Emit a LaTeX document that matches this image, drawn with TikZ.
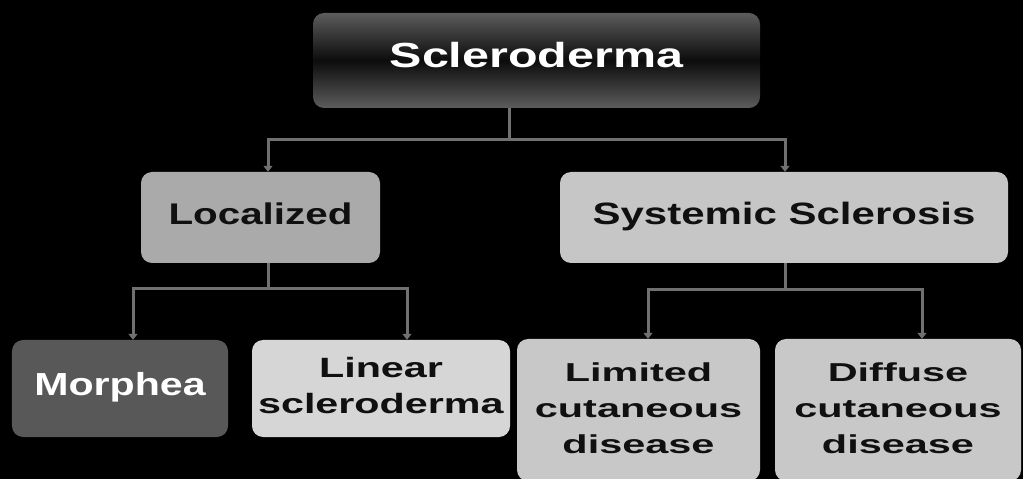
\documentclass[tikz,border=0pt]{standalone}
\usepackage{fontspec}
\setmainfont{Liberation Sans}
\usetikzlibrary{arrows.meta}
\definecolor{topedge}{RGB}{92,92,92}
\definecolor{topmid}{RGB}{12,12,12}
\definecolor{locfill}{RGB}{170,170,170}
\definecolor{sysfill}{RGB}{198,198,198}
\definecolor{morfill}{RGB}{88,88,88}
\definecolor{linfill}{RGB}{214,214,214}
\definecolor{limfill}{RGB}{200,200,200}
\definecolor{conn}{RGB}{112,112,112}
\definecolor{darktext}{RGB}{16,16,16}
\newcommand\strx[3]{\scalebox{#1}[1]{\fontsize{#2}{36}\selectfont\begin{tabular}{@{}c@{}}#3\end{tabular}}}
\tikzset{
  box/.style={rounded corners=11bp, inner sep=0pt, draw=none},
  conline/.style={draw=conn, line width=3bp},
  tip/.style={-{Triangle[length=6bp,width=9bp]}},
}
\begin{document}
\begin{tikzpicture}[x=1bp,y=-1bp]
\fill[black] (0,0) rectangle (1023,479);
\useasboundingbox (0,0) rectangle (1023,479);
\clip (0,0) rectangle (1023,479);

\coordinate (j0) at (509,140);
\coordinate (jl) at (268,289);
\coordinate (js) at (785,290);

\node[box, minimum width=447bp, minimum height=95bp, top color=topedge, bottom color=topedge, middle color=topmid] (top) at (536.5,60.5)
  {\strx{1.39}{35}{\textbf{\color{white}Scleroderma}}};
\node[box, minimum width=239bp, minimum height=91bp, fill=locfill] (loc) at (260.5,217.5)
  {\strx{1.35}{30}{\textbf{\color{darktext}Localized}}};
\node[box, minimum width=448bp, minimum height=91bp, fill=sysfill] (sys) at (784,217.5)
  {\strx{1.36}{31}{\textbf{\color{darktext}Systemic Sclerosis}}};
\node[box, minimum width=216bp, minimum height=97bp, fill=morfill] (mor) at (120,388.5)
  {\strx{1.29}{32}{\textbf{\color{white}Morphea}}};
\node[box, minimum width=258bp, minimum height=97bp, fill=linfill] (lin) at (381,388.5)
  {\strx{1.48}{28}{\color{darktext}\textbf{Linear}\\\color{darktext}\textbf{scleroderma}}};
\node[box, minimum width=243bp, minimum height=142bp, fill=limfill] (lim) at (638.5,410)
  {\strx{1.6}{26}{\color{darktext}\textbf{Limited}\\\color{darktext}\textbf{cutaneous}\\\color{darktext}\textbf{disease}}};
\node[box, minimum width=246bp, minimum height=142bp, fill=limfill] (dif) at (898,410)
  {\strx{1.6}{26}{\color{darktext}\textbf{Diffuse}\\\color{darktext}\textbf{cutaneous}\\\color{darktext}\textbf{disease}}};

\draw[conline] (j0 |- top.south) -- (j0);
\draw[conline, tip] (j0) -| (jl |- loc.north);
\draw[conline, tip] (j0) -| (js |- sys.north);
\draw[conline] (jl |- loc.south) -- (jl);
\draw[conline, tip] (jl) -| ([xshift=13bp]mor.north);
\draw[conline, tip] (jl) -| ([xshift=26bp]lin.north);
\draw[conline] (js |- sys.south) -- (js);
\draw[conline, tip] (js) -| ([xshift=9.5bp]lim.north);
\draw[conline, tip] (js) -| ([xshift=24bp]dif.north);
\end{tikzpicture}
\end{document}
